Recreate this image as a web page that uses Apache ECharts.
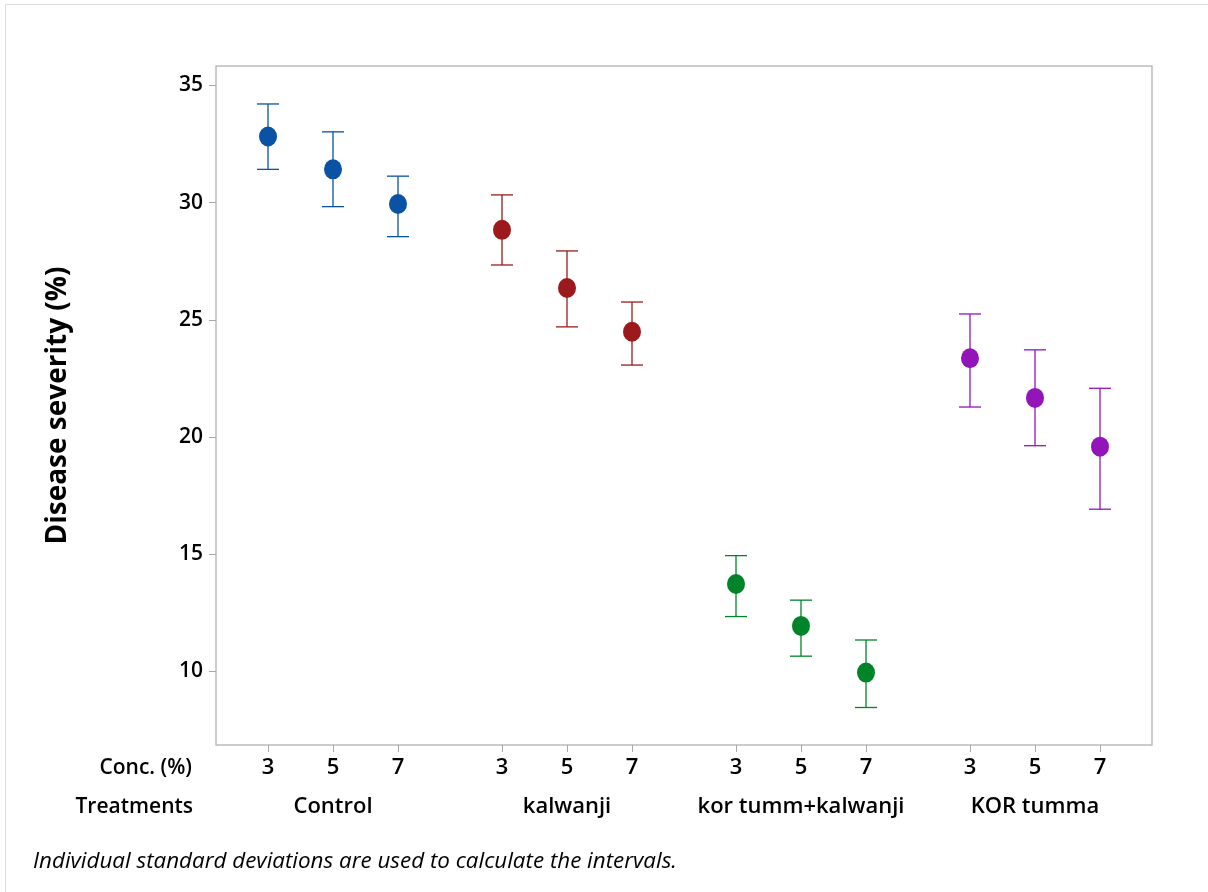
<!DOCTYPE html>
<html>
<head>
<meta charset="utf-8">
<title>Disease severity interval plot</title>
<script src="https://cdn.jsdelivr.net/npm/echarts@6/dist/echarts.min.js"></script>
<style>
  html, body { margin: 0; padding: 0; background: #fff; }
  #chart { width: 1208px; height: 892px; }
</style>
</head>
<body>
<div id="chart"></div>
<script>
// Treatments and concentration levels
const treatments = ['Control', 'kalwanji', 'kor tumm+kalwanji', 'KOR tumma'];
const concentrations = ['3', '5', '7'];

// Mean disease severity (%) per treatment, one value per concentration
const controlMean  = [32.82, 31.42, 29.94];
const kalwanjiMean = [28.84, 26.36, 24.49];
const korKalMean   = [13.73, 11.94, 9.95];
const korTummaMean = [23.36, 21.67, 19.59];

// Interval upper ends
const controlUpper  = [34.21, 33.02, 31.13];
const kalwanjiUpper = [30.33, 27.94, 25.76];
const korKalUpper   = [14.94, 13.04, 11.34];
const korTummaUpper = [25.25, 23.72, 22.08];

// Interval lower ends
const controlLower  = [31.42, 29.83, 28.55];
const kalwanjiLower = [27.34, 24.70, 23.07];
const korKalLower   = [12.34, 10.65, 8.46];
const korTummaLower = [21.28, 19.63, 16.92];

// Y axis tick labels
const yTicks = [10, 15, 20, 25, 30, 35];

const means  = [controlMean, kalwanjiMean, korKalMean, korTummaMean];
const uppers = [controlUpper, kalwanjiUpper, korKalUpper, korTummaUpper];
const lowers = [controlLower, kalwanjiLower, korKalLower, korTummaLower];
const colors = ['#0a52a3', '#9c1a1c', '#00842a', '#9315b9'];

// Horizontal layout: concentrations one unit apart, groups separated by a wider gap
const GROUP_STRIDE = 3.6;
const pos = (g, i) => g * GROUP_STRIDE + i;
const concPositions = [];
const concLabelAt = {};
treatments.forEach((t, g) => concentrations.forEach((c, i) => {
  const p = pos(g, i);
  concPositions.push(p);
  concLabelAt[p.toFixed(2)] = c;
}));
const groupPositions = treatments.map((t, g) => pos(g, 1));
const groupLabelAt = {};
treatments.forEach((t, g) => { groupLabelAt[pos(g, 1).toFixed(2)] = t; });

const FONT = '"Open Sans", "Noto Sans", sans-serif';
const LABEL_WEIGHT = 600;

const series = [];
treatments.forEach((t, g) => {
  const pts = concentrations.map((c, i) => [pos(g, i), means[g][i], lowers[g][i], uppers[g][i]]);
  // interval bars
  series.push({
    name: t + ' interval',
    type: 'custom',
    xAxisIndex: 0,
    yAxisIndex: 0,
    data: pts,
    z: 2,
    renderItem: function (params, api) {
      const x = api.value(0);
      const lo = api.coord([x, api.value(2)]);
      const hi = api.coord([x, api.value(3)]);
      const half = 11;
      const style = { stroke: colors[g], lineWidth: 1.3, fill: null };
      return {
        type: 'group',
        children: [
          { type: 'line', shape: { x1: lo[0], y1: lo[1], x2: hi[0], y2: hi[1] }, style: style },
          { type: 'line', shape: { x1: hi[0] - half, y1: hi[1], x2: hi[0] + half, y2: hi[1] }, style: style },
          { type: 'line', shape: { x1: lo[0] - half, y1: lo[1], x2: lo[0] + half, y2: lo[1] }, style: style }
        ]
      };
    },
    silent: true
  });
  // mean markers
  series.push({
    name: t,
    type: 'scatter',
    xAxisIndex: 0,
    yAxisIndex: 0,
    data: pts.map(p => [p[0], p[1]]),
    symbol: 'circle',
    symbolSize: [18, 20],
    itemStyle: { color: colors[g], opacity: 1 },
    z: 3,
    silent: true
  });
});

const chart = echarts.init(document.getElementById('chart'), null, { renderer: 'canvas' });
chart.setOption({
  animation: false,
  backgroundColor: '#ffffff',
  grid: {
    left: 216, right: 56, top: 66, bottom: 147,
    show: true,
    borderColor: '#bcbcbc',
    borderWidth: 1.5,
    backgroundColor: 'transparent'
  },
  xAxis: [
    {
      type: 'value',
      min: -0.8,
      max: 13.6,
      axisLine: { show: false, onZero: false },
      splitLine: { show: false },
      axisTick: {
        show: true,
        customValues: concPositions,
        length: 7,
        inside: false,
        lineStyle: { color: '#a8a8a8', width: 1 }
      },
      axisLabel: {
        show: true,
        customValues: concPositions,
        margin: 12,
        color: '#000',
        fontFamily: FONT,
        fontWeight: LABEL_WEIGHT,
        fontSize: 22,
        formatter: v => concLabelAt[v.toFixed(2)] || ''
      }
    },
    {
      type: 'value',
      min: -0.8,
      max: 13.6,
      position: 'bottom',
      offset: 39,
      axisLine: { show: false, onZero: false },
      splitLine: { show: false },
      axisTick: { show: false },
      axisLabel: {
        show: true,
        customValues: groupPositions,
        margin: 12,
        color: '#000',
        fontFamily: FONT,
        fontWeight: LABEL_WEIGHT,
        fontSize: 22,
        formatter: v => groupLabelAt[v.toFixed(2)] || ''
      }
    }
  ],
  yAxis: {
    type: 'value',
    min: 6.86,
    max: 35.83,
    name: 'Disease severity (%)',
    nameLocation: 'middle',
    nameGap: 144,
    nameRotate: 90,
    nameTextStyle: { color: '#000', fontFamily: FONT, fontSize: 28, fontWeight: 'bold' },
    axisLine: { show: false, onZero: false },
    splitLine: { show: false },
    axisTick: {
      show: true,
      customValues: yTicks,
      length: 7,
      lineStyle: { color: '#a8a8a8', width: 1 }
    },
    axisLabel: {
      show: true,
      customValues: yTicks,
      margin: 13,
      color: '#000',
      fontFamily: FONT,
      fontWeight: LABEL_WEIGHT,
      fontSize: 21
    }
  },
  graphic: [
    {
      type: 'rect',
      shape: { x: 5.5, y: 4.5, width: 1300, height: 1000 },
      style: { fill: null, stroke: '#dedede', lineWidth: 1 },
      silent: true,
      z: -10
    },
    {
      type: 'text',
      style: {
        x: 192, y: 768,
        text: 'Conc. (%)',
        align: 'right', verticalAlign: 'middle',
        fill: '#000', font: LABEL_WEIGHT + ' 21px ' + FONT
      }
    },
    {
      type: 'text',
      style: {
        x: 193, y: 807,
        text: 'Treatments',
        align: 'right', verticalAlign: 'middle',
        fill: '#000', font: LABEL_WEIGHT + ' 21px ' + FONT
      }
    },
    {
      type: 'text',
      style: {
        x: 33, y: 862,
        text: 'Individual standard deviations are used to calculate the intervals.',
        align: 'left', verticalAlign: 'middle',
        fill: '#000', font: 'italic 22.4px ' + FONT
      }
    }
  ],
  series: series
});
</script>
</body>
</html>
